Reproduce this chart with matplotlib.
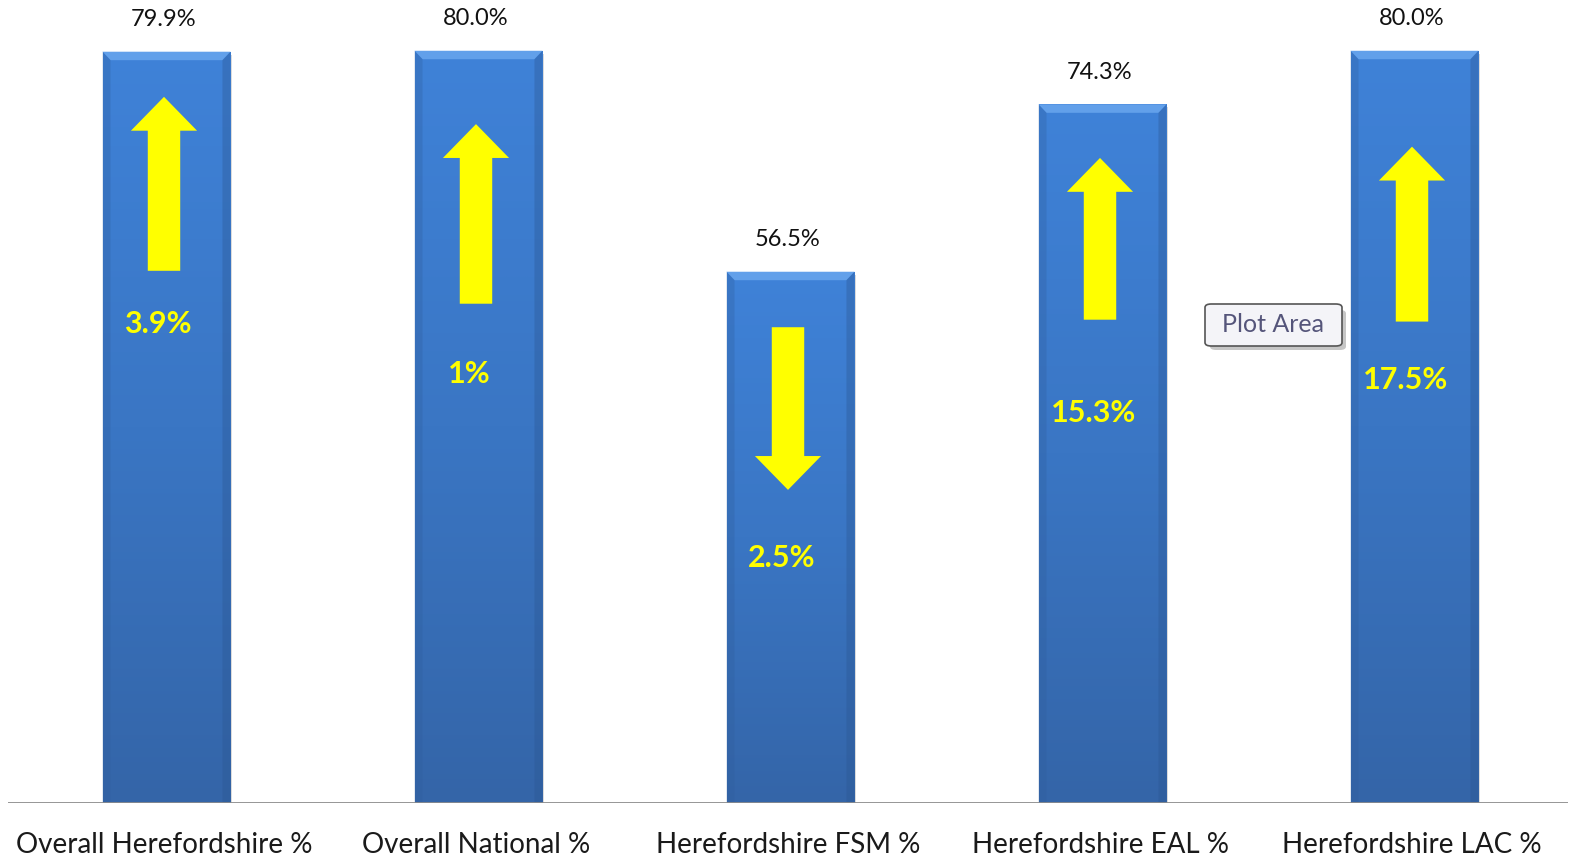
import matplotlib
matplotlib.use('Agg')
import matplotlib.pyplot as plt
import numpy as np
from matplotlib.patches import Rectangle, Polygon, FancyArrow, FancyBboxPatch
from matplotlib.colors import LinearSegmentedColormap

# data
categories = ['Overall Herefordshire %', 'Overall National %', 'Herefordshire FSM %',
              'Herefordshire EAL %', 'Herefordshire LAC %']
values = [79.9, 80.0, 56.5, 74.3, 80.0]
change_labels = ['3.9%', '1%', '2.5%', '15.3%', '17.5%']
change_up = [True, True, False, True, True]
# arrow tail / tip heights and change-label heights (in % units)
arrow_tail = [56.6, 53.1, 50.6, 51.4, 51.2]
arrow_tip = [75.1, 72.2, 33.3, 68.6, 69.8]
change_label_y = [50.9, 45.6, 26.1, 41.5, 45.0]

plt.rcParams['font.family'] = ['Lato', 'DejaVu Sans']

fig = plt.figure(figsize=(15.73, 8.61), dpi=100)
ax = fig.add_axes([8 / 1573, 58 / 861, 1560 / 1573, 803 / 861])
ax.set_xlim(-0.5, 4.5)
ax.set_ylim(0, 85.4)

bar_w = 0.41
grad = LinearSegmentedColormap.from_list('bar', ['#3465a8', '#3a76c4', '#3f82d8'])
img = np.linspace(0, 1, 256).reshape(-1, 1)

bx = 8 / 312    # bevel width in x data units
by = 0.9        # bevel height in y data units

for i, v in enumerate(values):
    x0 = i - bar_w / 2 + 0.008
    x1 = x0 + bar_w
    # soft shadow
    ax.add_patch(Rectangle((x0 + 0.005, 0), bar_w, v - 0.3, facecolor='#c4c4c4',
                           edgecolor='none', alpha=0.6, zorder=1))
    rect = Rectangle((x0, 0), bar_w, v, facecolor='none', edgecolor='none', zorder=2)
    ax.add_patch(rect)
    im = ax.imshow(img, cmap=grad, extent=(x0, x1, 0, v), origin='lower',
                   aspect='auto', zorder=2)
    im.set_clip_path(rect)
    # bevel: top light, sides slightly darker
    ax.add_patch(Polygon([(x0, v), (x1, v), (x1 - bx, v - by), (x0 + bx, v - by)],
                         closed=True, facecolor='#62a0ea', edgecolor='none', zorder=3))
    ax.add_patch(Polygon([(x0, v), (x0 + bx, v - by), (x0 + bx, 0), (x0, 0)],
                         closed=True, facecolor='#2f5d9c', edgecolor='none', alpha=0.3, zorder=3))
    ax.add_patch(Polygon([(x1, v), (x1 - bx, v - by), (x1 - bx, 0), (x1, 0)],
                         closed=True, facecolor='#2a5590', edgecolor='none', alpha=0.35, zorder=3))

    ax.annotate(f'{v:.1f}%', xy=(i, v), xytext=(0, 32), textcoords='offset pixels',
                ha='center', va='center', fontsize=17, color='#111111')

    # yellow arrow
    ax.add_patch(FancyArrow(i, arrow_tail[i], 0, arrow_tip[i] - arrow_tail[i],
                            width=0.104, head_width=0.212, head_length=3.6,
                            length_includes_head=True, facecolor='#ffff00',
                            edgecolor='none', zorder=4))
    ax.text(i - 0.02, change_label_y[i], change_labels[i], ha='center', va='center',
            fontsize=22, fontweight='bold', color='#ffff00', zorder=5)

ax.axhline(0, color='#8c8c8c', linewidth=2, zorder=6)
for s in ax.spines.values():
    s.set_visible(False)
ax.set_yticks([])
ax.set_xticks(range(len(categories)))
ax.set_xticklabels(categories, fontsize=20, color='#1a1a1a')
ax.tick_params(axis='x', length=0, pad=21)

# "Plot Area" tooltip
fig.patches.append(FancyBboxPatch((1210 / 1573, (861 - 350) / 861), 136 / 1573, 40 / 861,
                                  boxstyle='round,pad=0,rounding_size=0.004',
                                  transform=fig.transFigure, facecolor='#a0a0a0',
                                  edgecolor='none', alpha=0.6, zorder=7))
fig.patches.append(FancyBboxPatch((1205 / 1573, (861 - 346) / 861), 137 / 1573, 42 / 861,
                                  boxstyle='round,pad=0,rounding_size=0.004',
                                  transform=fig.transFigure, facecolor='#f4f4f8',
                                  edgecolor='#555555', linewidth=1.2, zorder=8))
fig.text(1273 / 1573, (861 - 325) / 861, 'Plot Area', ha='center', va='center',
         fontsize=18, color='#55557a', zorder=9)

fig.savefig('out.png', dpi=100)
